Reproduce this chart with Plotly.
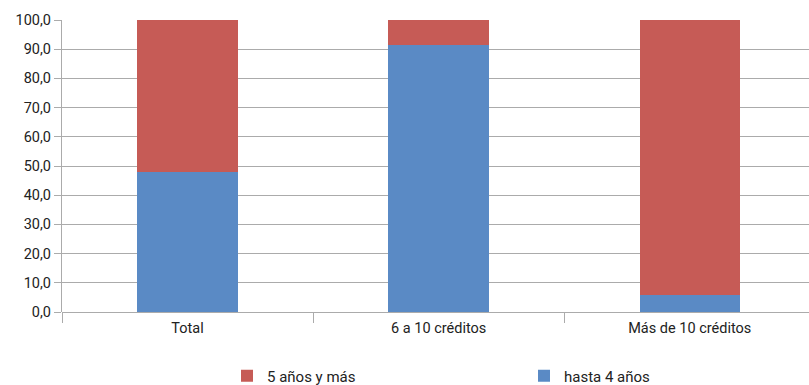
import plotly.graph_objects as go

# Share of students by years to complete, per credit load group
categories = ["Total", "6 a 10 créditos", "Más de 10 créditos"]
hasta_4 = [48.0, 91.5, 5.9]
cinco_y_mas = [52.0, 8.5, 94.1]
y_ticks = [0, 10, 20, 30, 40, 50, 60, 70, 80, 90, 100]

RED = "#C65B56"
BLUE = "#5A8AC5"
GRID = "#ABABAB"
FONT = "Liberation Sans Narrow, Arial Narrow, Roboto, sans-serif"

W, H = 809, 385
L, R, T, B = 62, 0, 20, 73
PW = W - L - R
PH = H - T - B


def px_to_paper(x):
    return (x - L) / PW


def py_to_paper(y):
    return (H - B - y) / PH


fig = go.Figure()
fig.add_trace(go.Bar(name="hasta 4 años", x=categories, y=hasta_4,
                     marker=dict(color=BLUE, line=dict(width=0)),
                     legend="legend2"))
fig.add_trace(go.Bar(name="5 años y más", x=categories, y=cinco_y_mas,
                     marker=dict(color=RED, line=dict(width=0)),
                     legend="legend"))

legend_common = dict(orientation="h", y=py_to_paper(376), yanchor="middle",
                     xanchor="left", bgcolor="rgba(0,0,0,0)",
                     font=dict(family=FONT, size=15, color="#222222"))

fig.update_layout(
    width=W, height=H,
    barmode="stack", bargap=0.6,
    separators=",.",
    plot_bgcolor="white", paper_bgcolor="white",
    margin=dict(l=L, r=R, t=T, b=B, autoexpand=False),
    font=dict(family=FONT, size=14, color="#222222"),
    showlegend=True,
    legend=dict(x=px_to_paper(227), **legend_common),
    legend2=dict(x=px_to_paper(524), **legend_common),
)

fig.update_xaxes(
    range=[-0.5, 2.475], showgrid=False, showline=False, zeroline=False,
    ticks="outside", tickson="boundaries", ticklen=10, tickwidth=1.3,
    tickcolor=GRID, tickfont=dict(size=14.5), ticklabelstandoff=5,
)
fig.update_yaxes(
    range=[0, 100], tickvals=y_ticks, tickformat=".1f",
    showgrid=True, gridcolor=GRID, gridwidth=1.3,
    showline=True, linecolor=GRID, linewidth=1.3,
    zeroline=True, zerolinecolor=GRID, zerolinewidth=1.3,
    ticks="outside", ticklen=7, tickwidth=1.3, tickcolor=GRID,
    tickfont=dict(size=14.5),
)

fig.write_html("out.html")
